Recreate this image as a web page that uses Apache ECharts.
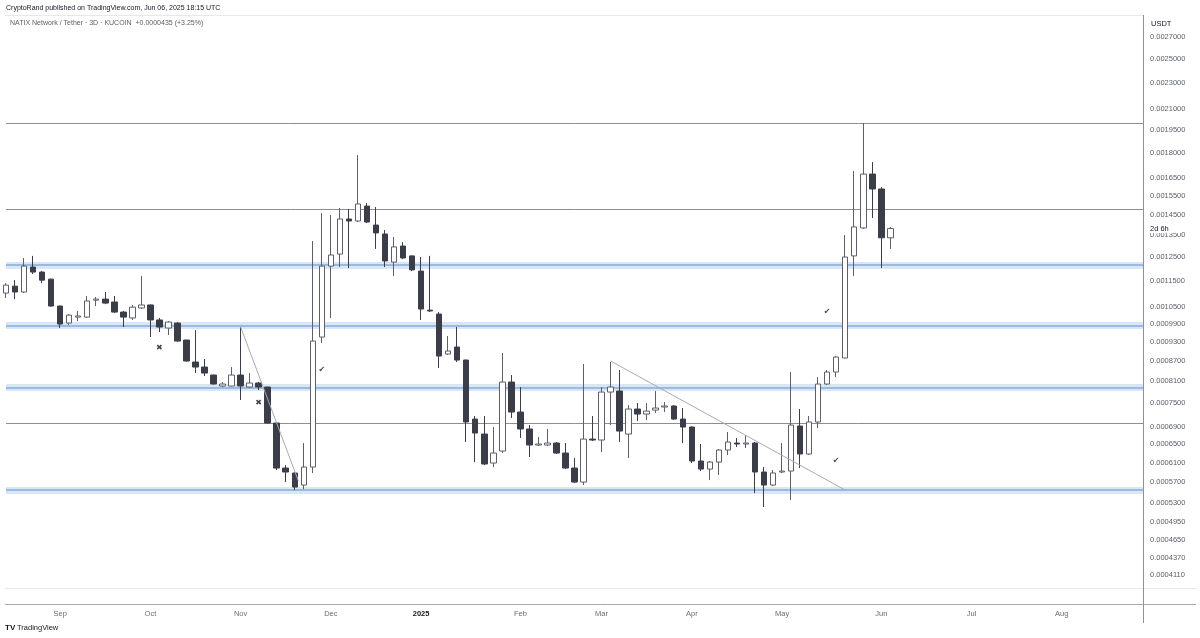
<!DOCTYPE html>
<html><head><meta charset="utf-8">
<script src="https://cdn.jsdelivr.net/npm/echarts@6/dist/echarts.min.js"></script>
<style>html,body{margin:0;padding:0;background:#fff}#chart{width:1200px;height:638px}</style>
</head><body><div id="chart"></div>
<script>
// 3-day candle start dates (categories), incl. empty future space
const dates = [
'2024-08-16','2024-08-19','2024-08-22','2024-08-25','2024-08-28','2024-08-31',
'2024-09-03','2024-09-06','2024-09-09','2024-09-12','2024-09-15','2024-09-18','2024-09-21','2024-09-24','2024-09-27','2024-09-30',
'2024-10-03','2024-10-06','2024-10-09','2024-10-12','2024-10-15','2024-10-18','2024-10-21','2024-10-24','2024-10-27','2024-10-30',
'2024-11-02','2024-11-05','2024-11-08','2024-11-11','2024-11-14','2024-11-17','2024-11-20','2024-11-23','2024-11-26','2024-11-29',
'2024-12-02','2024-12-05','2024-12-08','2024-12-11','2024-12-14','2024-12-17','2024-12-20','2024-12-23','2024-12-26','2024-12-29',
'2025-01-01','2025-01-04','2025-01-07','2025-01-10','2025-01-13','2025-01-16','2025-01-19','2025-01-22','2025-01-25','2025-01-28','2025-01-31',
'2025-02-03','2025-02-06','2025-02-09','2025-02-12','2025-02-15','2025-02-18','2025-02-21','2025-02-24','2025-02-27',
'2025-03-02','2025-03-05','2025-03-08','2025-03-11','2025-03-14','2025-03-17','2025-03-20','2025-03-23','2025-03-26','2025-03-29',
'2025-04-01','2025-04-04','2025-04-07','2025-04-10','2025-04-13','2025-04-16','2025-04-19','2025-04-22','2025-04-25','2025-04-28',
'2025-05-01','2025-05-04','2025-05-07','2025-05-10','2025-05-13','2025-05-16','2025-05-19','2025-05-22','2025-05-25','2025-05-28','2025-05-31',
'2025-06-03','2025-06-06','2025-06-09','2025-06-12','2025-06-15','2025-06-18','2025-06-21','2025-06-24','2025-06-27','2025-06-30',
'2025-07-03','2025-07-06','2025-07-09','2025-07-12','2025-07-15','2025-07-18','2025-07-21','2025-07-24','2025-07-27','2025-07-30',
'2025-08-02','2025-08-05','2025-08-08','2025-08-11','2025-08-14','2025-08-17','2025-08-20','2025-08-23','2025-08-26','2025-08-29'
];

// [open, close, low, high]
const candles = [
[0.001103,0.001134,0.001084,0.001142],[0.001130,0.001107,0.001080,0.001154],[0.001107,0.001212,0.001103,0.001247],
[0.001208,0.001187,0.001179,0.001256],[0.001187,0.001154,0.001142,0.001191],[0.001158,0.001054,0.001052,0.001160],
[0.001054,0.0009898,0.0009760,0.001056],[0.0009932,0.001021,0.0009863,0.001025],[0.001014,0.001018,0.001000,0.001036],
[0.001014,0.001073,0.001011,0.001092],[0.001076,0.001080,0.001054,0.001088],[0.001080,0.001065,0.001061,0.001107],
[0.001069,0.001032,0.001029,0.001092],[0.001032,0.001014,0.0009794,0.001036],[0.001011,0.001050,0.001004,0.001058],
[0.001047,0.001058,0.001043,0.001171],[0.001058,0.001004,0.0009458,0.001060],[0.001004,0.0009794,0.0009624,0.001011],
[0.0009760,0.0009967,0.0009524,0.001000],[0.0009932,0.0009326,0.0009310,0.0009967],[0.0009359,0.0008697,0.0008680,0.0009370],
[0.0008666,0.0008516,0.0008339,0.0009692],[0.0008516,0.0008339,0.0008252,0.0008758],[0.0008281,0.0008025,0.0008010,0.0008290],
[0.0007969,0.0008025,0.0007941,0.0008081],[0.0007969,0.0008281,0.0007960,0.0008516],[0.0008281,0.0007969,0.0007588,0.0009794],
[0.0007941,0.0008053,0.0007914,0.0008339],[0.0008053,0.0007941,0.0007858,0.0008081],[0.0007941,0.0007002,0.0006990,0.0007950],
[0.0007002,0.0005982,0.0005941,0.0007010],[0.0005982,0.0005900,0.0005696,0.0006045],[0.0005879,0.0005597,0.0005539,0.0005890],
[0.0005637,0.0006003,0.0005558,0.0006529],[0.0006003,0.0009326,0.0005879,0.001323],[0.0009458,0.001212,0.0009261,0.001459],
[0.001212,0.001260,0.001011,0.001449],[0.001264,0.001429,0.001208,0.001485],[0.001429,0.001419,0.001204,0.001480],
[0.001419,0.001506,0.001414,0.001787],[0.001495,0.001414,0.001409,0.001511],[0.001399,0.001361,0.001287,0.001490],
[0.001356,0.001234,0.001208,0.001375],[0.001229,0.001296,0.001171,0.001342],[0.001300,0.001247,0.001242,0.001318],
[0.001256,0.001196,0.001191,0.001258],[0.001191,0.001043,0.001004,0.001251],[0.001039,0.001036,0.001032,0.001256],
[0.001025,0.0008850,0.0008486,0.001032],[0.0008912,0.0009006,0.0008881,0.0009491],[0.0009133,0.0008727,0.0008666,0.0009794],
[0.0008727,0.0007027,0.0006552,0.0008740],[0.0007100,0.0006761,0.0006109,0.0007175],[0.0006737,0.0006067,0.0006045,0.0007175],
[0.0006088,0.0006304,0.0006003,0.0006905],[0.0006349,0.0008081,0.0006304,0.0008944],[0.0008081,0.0007276,0.0007125,0.0008281],
[0.0007276,0.0006857,0.0006644,0.0007941],[0.0006857,0.0006484,0.0006217,0.0006953],[0.0006484,0.0006506,0.0006461,0.0006667],
[0.0006484,0.0006529,0.0006461,0.0006857],[0.0006529,0.0006304,0.0006283,0.0006552],[0.0006304,0.0005982,0.0005961,0.0006529],
[0.0005982,0.0005696,0.0005676,0.0006195],[0.0005696,0.0006620,0.0005637,0.0008606],[0.0006620,0.0006598,0.0006575,0.0007175],
[0.0006598,0.0007803,0.0006327,0.0007941],[0.0007803,0.0007941,0.0006953,0.0008666],[0.0007831,0.0006808,0.0006552,0.0008427],
[0.0006737,0.0007353,0.0006195,0.0007456],[0.0007353,0.0007225,0.0007051,0.0007509],[0.0007225,0.0007301,0.0007076,0.0007509],
[0.0007327,0.0007379,0.0007251,0.0007831],[0.0007405,0.0007431,0.0007276,0.0007535],[0.0007431,0.0007100,0.0007076,0.0007456],
[0.0007100,0.0006905,0.0006529,0.0007379],[0.0006905,0.0006131,0.0006088,0.0006920],[0.0006131,0.0005961,0.0005920,0.0006506],
[0.0005961,0.0006109,0.0005736,0.0006131],[0.0006109,0.0006371,0.0005838,0.0006394],[0.0006371,0.0006552,0.0006261,0.0006784],
[0.0006529,0.0006506,0.0006438,0.0006644],[0.0006506,0.0006529,0.0006416,0.0006714],[0.0006529,0.0005900,0.0005481,0.0006552],
[0.0005900,0.0005637,0.0005220,0.0006003],[0.0005637,0.0005879,0.0005617,0.0005941],[0.0005900,0.0005920,0.0005879,0.0006529],
[0.0005920,0.0006953,0.0005349,0.0008368],[0.0006929,0.0006283,0.0005982,0.0007353],[0.0006283,0.0007027,0.0006261,0.0007175],
[0.0007027,0.0008025,0.0006881,0.0008223],[0.0008025,0.0008368,0.0007997,0.0008427],[0.0008368,0.0008819,0.0008223,0.0008850],
[0.0008789,0.001251,0.0008780,0.001351],[0.001256,0.001390,0.001171,0.001690],[0.001385,0.001672,0.001380,0.001999],
[0.001672,0.001587,0.001434,0.001744],[0.001587,0.001338,0.001204,0.001598],[0.001338,0.001382,0.001287,0.001390]
];

const priceTicks = [0.0027,0.0025,0.0023,0.0021,0.00195,0.0018,0.00165,0.00155,0.00145,0.00135,0.00125,0.00115,0.00105,
  0.00099,0.00093,0.00087,0.00081,0.00075,0.00069,0.00065,0.00061,0.00057,0.00053,0.000495,0.000465,0.000437,0.000411];
const bandLevels = [0.001217, 0.000985, 0.000793, 0.000554];
const lineLevels = [0.002, 0.00148, 0.0007];
const lastPrice = 0.001382;
const trendLine1 = [[26, 0.0009797], [32.4, 0.000572]];
const trendLine2 = [[67, 0.0008697], [93, 0.0005539]];
const checkMarks = [[35, 0.0008427], [91, 0.0010322], [92, 0.0006131]];
const crossMarks = [[17, 0.0009101], [28, 0.0007509]];
const monthNames = ['Jan','Feb','Mar','Apr','May','Jun','Jul','Aug','Sep','Oct','Nov','Dec'];

const FONT = '"Liberation Sans", Arial, sans-serif';
const isMonthStart = i => i > 0 && dates[i].slice(5,7) !== dates[i-1].slice(5,7);

// drawings that sit behind the candles
const levelLines = [];
bandLevels.forEach(v => {
  levelLines.push({yAxis: v, lineStyle: {color: '#d9e6f6', width: 7, opacity: 1, type: 'solid'}});
  levelLines.push({yAxis: v, lineStyle: {color: '#86abd8', width: 1.6, opacity: 1, type: 'solid'}});
});
lineLevels.forEach(v => levelLines.push({yAxis: v, lineStyle: {color: '#8c8e94', width: 1, opacity: 1, type: 'solid'}}));

// price scale labels (placed through the log axis)
const scaleLabels = [];
priceTicks.forEach(v => scaleLabels.push({
  yAxis: v, lineStyle: {width: 0, color: 'rgba(0,0,0,0)'},
  label: {show: true, position: 'end', distance: 7, formatter: v.toFixed(7), color: '#5d606b', fontSize: 7.5, fontFamily: FONT}
}));
scaleLabels.push({
  yAxis: lastPrice, lineStyle: {width: 0, color: 'rgba(0,0,0,0)'},
  label: {show: true, position: 'end', distance: 6, formatter: '2d 6h', color: '#131722', fontSize: 7.5, fontFamily: FONT,
    backgroundColor: '#ffffff', padding: [1, 12, 0, 1]}
});

const chart = echarts.init(document.getElementById('chart'), null, {renderer: 'canvas'});
chart.setOption({
  animation: false,
  backgroundColor: '#ffffff',
  grid: {left: 6, right: 57, top: 15, bottom: 34, containLabel: false, outerBoundsMode: 'none'},
  xAxis: [{
    type: 'category', data: dates, boundaryGap: false,
    axisLine: {show: false}, axisTick: {show: false}, splitLine: {show: false},
    axisLabel: {
      interval: (i) => isMonthStart(i), margin: 6, color: '#6a6d78', fontSize: 7.5, fontFamily: FONT,
      formatter: (v) => { const m = +v.slice(5,7); return m === 1 ? '{y|' + v.slice(0,4) + '}' : monthNames[m-1]; },
      rich: {y: {fontWeight: 'bold', color: '#131722', fontSize: 7.5, fontFamily: FONT}}
    }
  }, {
    type: 'value', min: 0, max: dates.length - 1, show: false
  }],
  yAxis: {
    type: 'log', logBase: 10, min: 0.0003719, max: 0.002916, position: 'right',
    axisLabel: {show: false}, axisLine: {show: false}, axisTick: {show: false}, splitLine: {show: false}
  },
  series: [{
    type: 'line', data: [], z: 1, silent: true, symbol: 'none',
    markLine: {z: 1, silent: true, symbol: ['none','none'], precision: 12, animation: false, label: {show: false},
      emphasis: {disabled: true}, data: levelLines}
  }, {
    type: 'candlestick', data: candles, barWidth: 6, clip: true, z: 2,
    itemStyle: {color: '#ffffff', color0: '#3b3e48', borderColor: '#5d606b', borderColor0: '#3b3e48', borderWidth: 1},
    markLine: {silent: true, symbol: ['none','none'], precision: 12, animation: false, label: {show: false},
      emphasis: {disabled: true}, data: scaleLabels}
  }, {
    type: 'line', xAxisIndex: 1, data: trendLine1, symbol: 'none', silent: true,
    lineStyle: {color: '#a9abb2', width: 1}, z: 3
  }, {
    type: 'line', xAxisIndex: 1, data: trendLine2, symbol: 'none', silent: true,
    lineStyle: {color: '#a9abb2', width: 1}, z: 3
  }, {
    type: 'scatter', xAxisIndex: 1, data: checkMarks, symbolSize: 1, itemStyle: {color: 'rgba(0,0,0,0)'}, silent: true, z: 4,
    label: {show: true, position: 'inside', formatter: '\u2714', color: '#131722', fontSize: 8, fontFamily: '"DejaVu Sans"'}
  }, {
    type: 'scatter', xAxisIndex: 1, data: crossMarks, symbolSize: 1, itemStyle: {color: 'rgba(0,0,0,0)'}, silent: true, z: 4,
    label: {show: true, position: 'inside', formatter: '\u2716', color: '#131722', fontSize: 8, fontFamily: '"DejaVu Sans"'}
  }],
  graphic: [
    {type: 'text', x: 6, y: 8, silent: true, style: {text: 'CryptoRand published on TradingView.com, Jun 06, 2025 18:15 UTC',
      fill: '#131722', font: '7px ' + FONT, verticalAlign: 'middle', align: 'left'}},
    {type: 'text', x: 10, y: 23, silent: true, style: {text: 'NATIX Network / Tether \u00b7 3D \u00b7 KUCOIN  +0.0000435 (+3.25%)',
      fill: '#5d606b', font: '7px ' + FONT, verticalAlign: 'middle', align: 'left'}},
    {type: 'text', x: 1151, y: 24, silent: true, style: {text: 'USDT', fill: '#131722', font: '500 7.5px ' + FONT, verticalAlign: 'middle', align: 'left'}},
    {type: 'line', silent: true, shape: {x1: 5, y1: 15.5, x2: 1143, y2: 15.5}, style: {stroke: '#e6e8ee', lineWidth: 1}},
    {type: 'line', silent: true, shape: {x1: 5, y1: 588.5, x2: 1196, y2: 588.5}, style: {stroke: '#e8e8e8', lineWidth: 1}},
    {type: 'line', silent: true, shape: {x1: 5, y1: 604.5, x2: 1196, y2: 604.5}, style: {stroke: '#a3a6ae', lineWidth: 1}},
    {type: 'line', silent: true, shape: {x1: 1143.5, y1: 15, x2: 1143.5, y2: 623}, style: {stroke: '#8e9199', lineWidth: 1}},
    {type: 'text', x: 5, y: 628, silent: true, style: {text: 'TV', fill: '#131722', font: 'bold 8px ' + FONT, verticalAlign: 'middle', align: 'left'}},
    {type: 'text', x: 17, y: 628, silent: true, style: {text: 'TradingView', fill: '#131722', font: '7.5px ' + FONT, verticalAlign: 'middle', align: 'left'}}
  ]
});
</script>
</body></html>
